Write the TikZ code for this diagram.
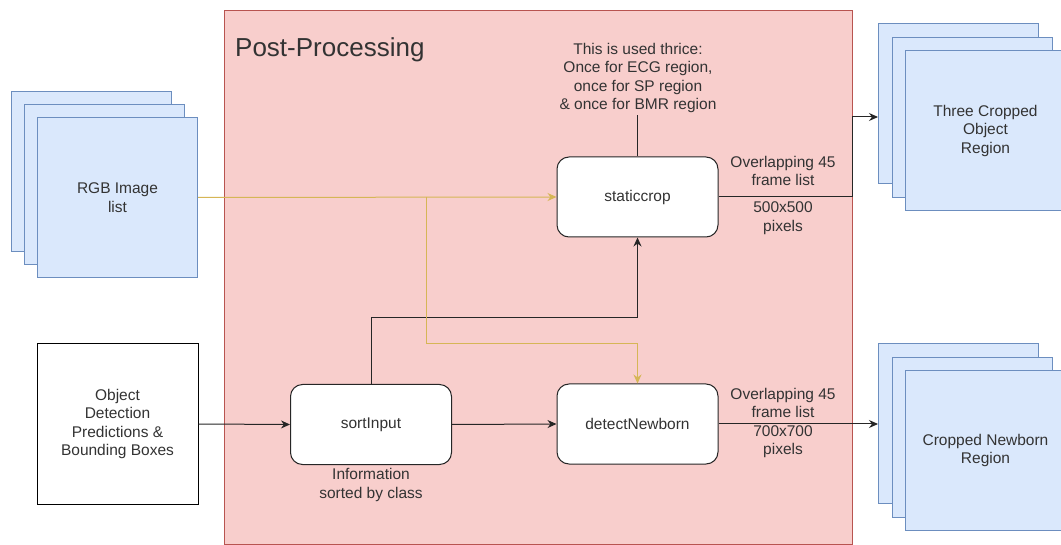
\documentclass[tikz,border=0pt]{standalone}
\usepackage{fontspec}
\setmainfont{Liberation Sans}
\usetikzlibrary{arrows.meta}
\definecolor{pinkfill}{HTML}{F8CECC}
\definecolor{pinkline}{HTML}{B85450}
\definecolor{bluefill}{HTML}{DAE8FC}
\definecolor{blueline}{HTML}{6C8EBF}
\definecolor{goldline}{HTML}{D6B656}
\definecolor{txt}{HTML}{333333}
\begin{document}
\begin{tikzpicture}[x=1pt,y=-1pt,
  lblfont/.style={font=\fontsize{15.5}{18.5}\selectfont, text=txt, align=center},
  lbl/.style={lblfont, inner sep=2pt},
  stackrect/.style={lblfont, draw=blueline, fill=bluefill, line width=1pt, minimum width=160pt, minimum height=160pt, inner sep=0pt, anchor=north west},
  procbox/.style={lblfont, draw=black!85, fill=white, rounded corners=12pt, minimum width=161pt, minimum height=80pt, line width=1pt, inner sep=0pt},
  conn/.style={line width=1pt, draw=black!85},
  goldconn/.style={line width=1pt, draw=goldline},
  arr/.style={-{Stealth[length=9pt,width=8pt]}}
]
\clip (0,0) rectangle (1061,545);
\fill[white] (0,0) rectangle (1061,545);

% post-processing region
\node[draw=pinkline, fill=pinkfill, line width=1pt, anchor=north west, minimum width=628pt, minimum height=534pt, inner sep=0pt] (pp) at (224,10) {};
\node[font=\fontsize{26}{30}\selectfont, text=txt, anchor=west, inner sep=0pt] (pptitle) at (235,50) {Post-Processing};

% RGB stack
\node[stackrect] (rgb1) at (11,91) {};
\node[stackrect] (rgb2) at (24,104) {};
\node[stackrect] (rgb3) at (37,117) {RGB Image\\list};

% Object detection box
\node[lblfont, draw=black, fill=white, line width=1pt, minimum width=161pt, minimum height=160pt, inner sep=0pt] (objdet) at (117.5,424) {Object\\Detection\\Predictions \&\\Bounding Boxes};

% Output stacks
\node[stackrect] (cropA1) at (878,23) {};
\node[stackrect] (cropA2) at (892,37) {};
\node[stackrect] (cropA3) at (905,50) {Three Cropped\\Object\\Region};

\node[stackrect] (cropB1) at (878,343) {};
\node[stackrect] (cropB2) at (892,357) {};
\node[stackrect] (cropB3) at (905,370) {Cropped Newborn\\Region};

% process boxes
\node[procbox] (sort) at (371,424.5) {sortInput};
\node[procbox] (static) at (637.5,197) {staticcrop};
\node[procbox] (detect) at (637.5,424) {detectNewborn};

% labels
\node[lbl] (sortlbl) at (371,485) {Information\\sorted by class};
\node[lbl] (note) at (638,78) {This is used thrice:\\Once for ECG region,\\once for SP region\\\& once for BMR region};
\node[lbl] (outA1) at (783,171) {Overlapping 45\\frame list};
\node[lbl] (outA2) at (783,218) {500x500\\pixels};
\node[lbl] (outB) at (783,423) {Overlapping 45\\frame list\\700x700\\pixels};

% connectors
\coordinate (turnA) at (852,117);
\coordinate (ybr) at (426,197);
\draw[conn] (static.north |- note.south) -- (static.north);
\draw[conn,arr] (objdet.east) -- (sort.west);
\draw[conn,arr] (sort.east) -- (detect.west);
\draw[conn,arr] (sort.north) -- ++(0,-66) -| (static.south);
\draw[conn,arr] (static.east) -| (turnA) -- (turnA -| cropA1.west);
\draw[conn,arr] (detect.east) -- (detect.east -| cropB1.west);
\draw[goldconn,arr] (rgb3.east) -- (static.west);
\draw[goldconn,arr] (ybr) -- ++(0,147) -| (detect.north);
\end{tikzpicture}
\end{document}
